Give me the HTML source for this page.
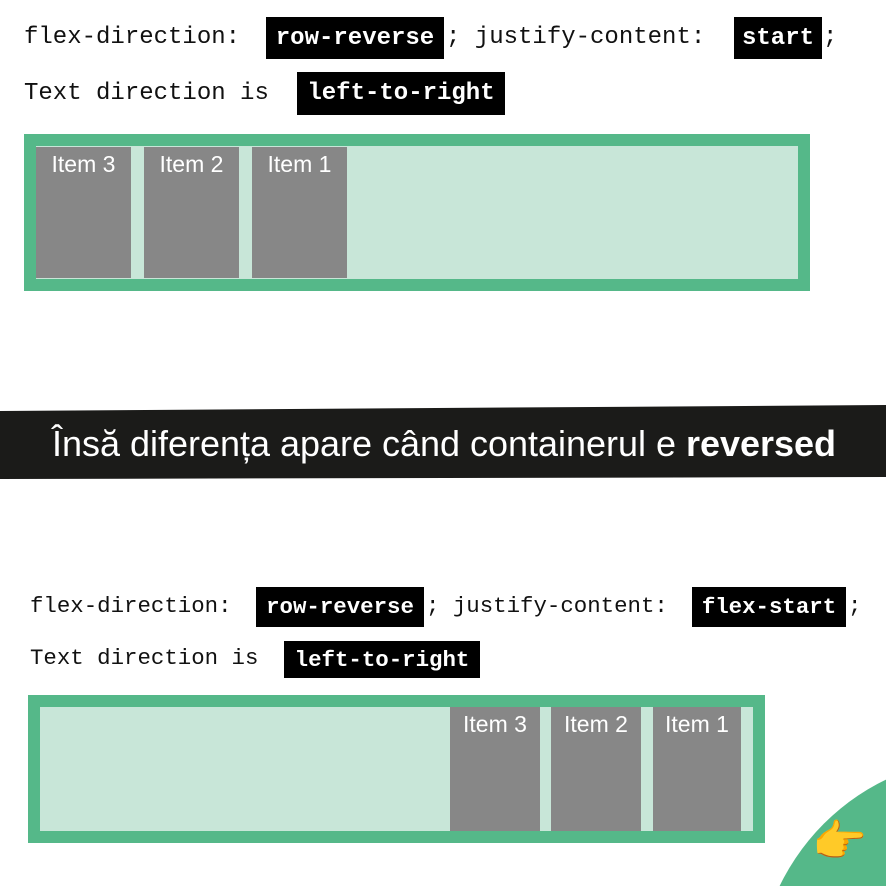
<!DOCTYPE html>
<html><head><meta charset="utf-8"><style>
html,body{margin:0;padding:0;background:#fff;}
body{width:886px;height:886px;position:relative;overflow:hidden;font-family:"Liberation Mono",monospace;}
.t{position:absolute;color:#111;white-space:nowrap;line-height:1;}
.b{position:absolute;background:#000;color:#fff;font-weight:bold;display:flex;align-items:center;justify-content:center;white-space:nowrap;font-family:"Liberation Mono",monospace;}
.box{position:absolute;background:#c8e6d8;border:12px solid #55b889;box-sizing:border-box;}
.it{position:absolute;background:#878787;color:#fff;font-family:"Liberation Sans",sans-serif;font-size:23px;text-align:center;line-height:1;padding-top:6px;box-sizing:border-box;}
</style></head><body>

<div class="t" style="left:24px;top:26px;font-size:24px;">flex-direction:</div>
<div class="b" style="left:266px;top:17px;width:178px;height:42px;font-size:24px;">row-reverse</div>
<div class="t" style="left:446px;top:26px;font-size:24px;">; justify-content:</div>
<div class="b" style="left:734px;top:17px;width:88px;height:42px;font-size:24px;">start</div>
<div class="t" style="left:823px;top:26px;font-size:24px;">;</div>

<div class="t" style="left:24px;top:82px;font-size:24px;">Text direction is</div>
<div class="b" style="left:297px;top:72px;width:208px;height:43px;font-size:24px;">left-to-right</div>

<div class="box" style="left:24px;top:134px;width:786px;height:157px;"></div>
<div class="it" style="left:36px;top:147px;width:95px;height:131px;">Item 3</div>
<div class="it" style="left:144px;top:147px;width:95px;height:131px;">Item 2</div>
<div class="it" style="left:252px;top:147px;width:95px;height:131px;">Item 1</div>

<svg style="position:absolute;left:0;top:0" width="886" height="886">
<polygon points="0,411 886,405 886,477 0,479" fill="#1b1b19"/>
<text x="52" y="456" textLength="784" lengthAdjust="spacingAndGlyphs" font-family="Liberation Sans, sans-serif" font-size="36" fill="#fff">Însă diferența apare când containerul e <tspan font-weight="bold">reversed</tspan></text>
<circle cx="985" cy="985" r="228" fill="#55b889"/>
</svg>

<div class="t" style="left:30px;top:595px;font-size:22.4px;">flex-direction:</div>
<div class="b" style="left:256px;top:587px;width:168px;height:40px;font-size:22.4px;">row-reverse</div>
<div class="t" style="left:426px;top:595px;font-size:22.4px;">; justify-content:</div>
<div class="b" style="left:692px;top:587px;width:154px;height:40px;font-size:22.4px;">flex-start</div>
<div class="t" style="left:848px;top:595px;font-size:22.4px;">;</div>

<div class="t" style="left:30px;top:647px;font-size:22.4px;">Text direction is</div>
<div class="b" style="left:284px;top:641px;width:196px;height:37px;font-size:22.4px;">left-to-right</div>

<div class="box" style="left:28px;top:695px;width:737px;height:148px;"></div>
<div class="it" style="left:450px;top:707px;width:90px;height:124px;">Item 3</div>
<div class="it" style="left:551px;top:707px;width:90px;height:124px;">Item 2</div>
<div class="it" style="left:653px;top:707px;width:88px;height:124px;">Item 1</div>

<div style="position:absolute;left:812px;top:816px;width:70px;height:50px;overflow:hidden;font-size:44px;line-height:50px;font-family:'Noto Color Emoji','DejaVu Sans',sans-serif;color:#f0d6bd;">👉</div>
</body></html>
